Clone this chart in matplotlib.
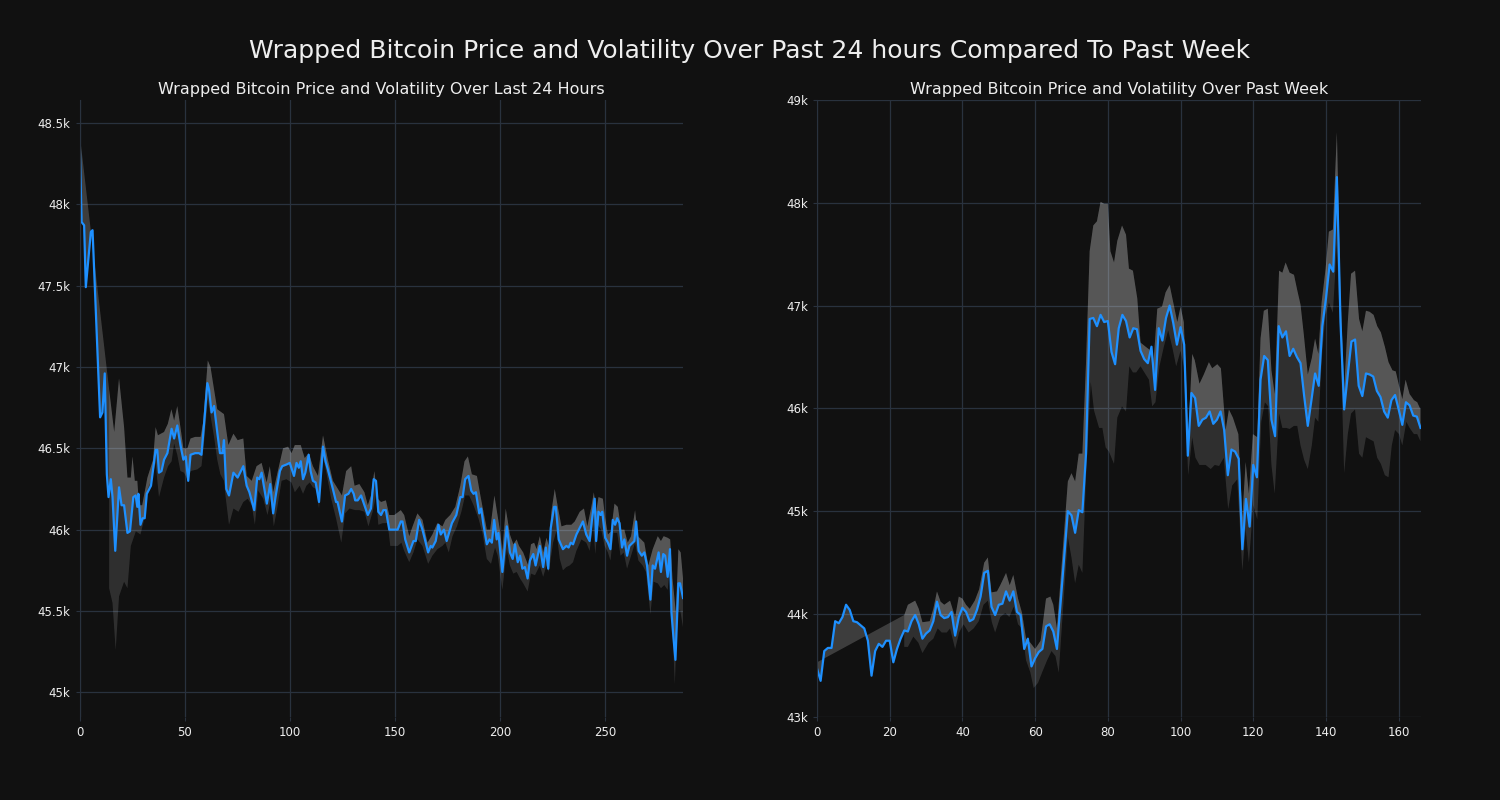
import matplotlib
matplotlib.use("Agg")
import matplotlib.pyplot as plt
import numpy as np
from matplotlib.ticker import FuncFormatter

# ---- last 24 hours (5 minute steps), prices in thousands of USD ----
day_x = [0, 1, 2.2, 3, 5.4, 6.2, 9.8, 10.9, 12, 13, 13.8, 14.9, 15.7, 17, 18.8, 20, 21.2, 22.8, 24,
         25.6, 26.7, 27.5, 28, 29, 30, 31, 32, 34, 36.2, 37, 37.8, 39, 40.2, 41.8, 43.8, 45, 46.5,
         48, 49.4, 50.5, 51.7, 52.8, 55, 56.8, 58, 59.5, 60.8, 61.6, 62.8, 64, 65.5, 66.8, 68, 68.7,
         69.8, 71.1, 73.2, 75.2, 77.9, 79.5, 80.8, 83.1, 84.5, 85.5, 86.6, 87.9, 89.1, 90.7, 92.1,
         93.2, 95.3, 96.4, 98.4, 100, 102, 103.2, 104.3, 105.2, 106.3, 107.4, 109, 109.9, 111,
         112.3, 113.9, 115.8, 117, 118.1, 120.5, 122, 122.7, 124.8, 126.3, 127.9, 129.2, 130.4,
         131.1, 132.3, 133.9, 135.5, 137.1, 138.6, 139.9, 141, 142.1, 143.4, 144.5, 145.7, 147.3,
         148.9, 151.3, 152.8, 153.6, 154.9, 156.8, 158.8, 159.9, 161.5, 163.1, 165.8, 167, 167.8,
         169.4, 170.7, 171.8, 173.3, 174.6, 177.1, 179.2, 181.1, 182.2, 183.4, 185, 186.3, 187.4,
         188.5, 190.1, 191, 192.1, 193.7, 195, 196.1, 197.2, 198.4, 199.2, 201.1, 203.2, 204.7,
         206, 207.1, 208.4, 209.5, 210.6, 211.8, 213.1, 214.2, 215.8, 216.9, 218.9, 220.5, 221.8,
         222.9, 224.1, 225.7, 226.5, 227.9, 229.9, 231.5, 232.6, 233.6, 234.7, 236.3, 239.4, 241,
         242.6, 243.7, 245, 245.7, 246.8, 247.8, 248.6, 250, 251.3, 252.5, 253.6, 254.7, 255.7,
         256.8, 258, 259.1, 260.4, 261.5, 263.9, 264.7, 265.9, 267.4, 268.6, 269.9, 271.5, 272.6,
         273.7, 275.4, 276.5, 277.6, 278.5, 279.7, 280.8, 281.5, 282.5, 283.4, 284.8, 285.6, 287]
day_price = [48.44, 47.89, 47.87, 47.49, 47.83, 47.84, 46.69, 46.72, 46.96, 46.34, 46.2, 46.31, 46.2,
             45.87, 46.26, 46.15, 46.15, 45.98, 45.99, 46.2, 46.21, 46.14, 46.22, 46.03, 46.07,
             46.07, 46.22, 46.27, 46.49, 46.49, 46.35, 46.36, 46.43, 46.47, 46.62, 46.56, 46.64,
             46.52, 46.43, 46.45, 46.3, 46.46, 46.47, 46.47, 46.46, 46.69, 46.9, 46.86, 46.72,
             46.76, 46.6, 46.47, 46.47, 46.55, 46.25, 46.21, 46.35, 46.32, 46.39, 46.27, 46.23,
             46.12, 46.32, 46.31, 46.35, 46.25, 46.16, 46.28, 46.1, 46.2, 46.36, 46.39, 46.4, 46.41,
             46.33, 46.41, 46.38, 46.42, 46.31, 46.35, 46.46, 46.36, 46.3, 46.29, 46.17, 46.51,
             46.42, 46.37, 46.25, 46.17, 46.17, 46.05, 46.21, 46.22, 46.25, 46.22, 46.18, 46.18,
             46.21, 46.15, 46.09, 46.13, 46.31, 46.3, 46.11, 46.09, 46.12, 46.12, 46.0, 46.0, 46.0,
             46.05, 46.05, 45.94, 45.86, 45.93, 45.93, 46.06, 46.0, 45.86, 45.9, 45.89, 45.93,
             46.03, 45.97, 46.0, 45.93, 46.04, 46.09, 46.2, 46.2, 46.31, 46.33, 46.24, 46.22, 46.23,
             46.1, 46.13, 46.03, 45.91, 45.94, 45.92, 46.06, 45.94, 45.98, 45.74, 46.02, 45.86,
             45.82, 45.91, 45.8, 45.84, 45.76, 45.77, 45.7, 45.81, 45.85, 45.78, 45.9, 45.77, 45.89,
             45.76, 46.01, 46.14, 46.14, 45.94, 45.88, 45.9, 45.89, 45.92, 45.91, 45.97, 46.05,
             45.97, 45.93, 46.06, 46.19, 45.93, 46.11, 46.09, 46.11, 45.95, 45.92, 45.88, 46.06,
             46.03, 46.07, 46.04, 45.89, 45.94, 45.84, 45.9, 45.93, 46.05, 45.87, 45.84, 45.86,
             45.78, 45.57, 45.78, 45.76, 45.86, 45.74, 45.85, 45.84, 45.71, 45.88, 45.49, 45.33,
             45.2, 45.67, 45.67, 45.58]

day_upper_x = [0, 14.1, 16.5, 18.8, 21.2, 22.8, 24.4, 25.2, 26.3, 27.5, 28.3, 29.8, 32.3, 35, 36.2,
               37.3, 40.2, 42, 43.7, 45, 46.5, 48, 49.4, 51.3, 52.8, 55, 57.6, 58.8, 61, 62.3, 64,
               65.5, 68.7, 70.8, 73.2, 75.2, 77.9, 79.5, 81.9, 84.2, 86.6, 89, 90.5, 92.1, 94.5,
               96.8, 99.2, 100.8, 102.4, 105.2, 107.1, 109, 111, 113.4, 115.8, 118.1, 120.5, 122.9,
               124.8, 126.8, 129.2, 130.8, 133.1, 135.5, 137.1, 138.6, 140.2, 141.8, 143.4, 145.7,
               147.3, 149.7, 152.8, 154.4, 156.8, 158.4, 160.7, 163.1, 165.5, 167.8, 170.2, 172.6,
               174, 176.3, 178.7, 181.1, 183.1, 184.7, 186.6, 189, 190.5, 192.1, 193.7, 195.3,
               197.3, 198.9, 200, 201.1, 202.7, 204.7, 206.3, 207.9, 209, 211, 213.4, 214.7, 216.2,
               217.4, 218.9, 220.5, 222.1, 223.2, 224.4, 226, 227.6, 229.2, 231.5, 233.9, 235.5,
               237.9, 239.9, 241.5, 243.4, 244.6, 245.7, 246.8, 248.9, 250, 251.3, 252.8, 254.4,
               256, 257.6, 259.1, 260.7, 262.3, 264.2, 265.5, 267.1, 268.6, 270.5, 272.6, 275,
               276.5, 277.8, 279.7, 280.9, 282, 283.6, 284.8, 285.9, 287]
day_upper = [48.44, 46.86, 46.6, 46.93, 46.63, 46.32, 46.32, 46.45, 46.3, 46.3, 46.15, 46.15, 46.32,
             46.43, 46.63, 46.58, 46.6, 46.65, 46.74, 46.67, 46.76, 46.63, 46.5, 46.5, 46.56,
             46.57, 46.57, 46.66, 47.04, 47.0, 46.86, 46.74, 46.71, 46.52, 46.59, 46.55, 46.56,
             46.33, 46.3, 46.39, 46.41, 46.29, 46.39, 46.23, 46.37, 46.5, 46.51, 46.47, 46.52,
             46.52, 46.44, 46.47, 46.39, 46.33, 46.58, 46.43, 46.3, 46.25, 46.21, 46.36, 46.39,
             46.27, 46.28, 46.23, 46.15, 46.21, 46.36, 46.19, 46.17, 46.18, 46.09, 46.09, 46.12,
             46.09, 45.96, 46.02, 46.1, 46.06, 45.92, 45.97, 46.04, 46.02, 46.06, 46.09, 46.14,
             46.27, 46.42, 46.45, 46.34, 46.33, 46.22, 46.11, 46.0, 46.0, 46.21, 46.08, 45.99,
             45.87, 46.13, 45.97, 45.91, 45.94, 45.9, 45.86, 45.78, 45.91, 45.92, 45.88, 45.96,
             45.86, 45.95, 45.9, 46.11, 46.25, 46.13, 46.02, 46.03, 46.03, 46.05, 46.11, 46.13,
             46.02, 46.14, 46.23, 46.11, 46.2, 46.19, 46.07, 45.97, 45.99, 46.16, 46.14, 46.0,
             46.0, 45.92, 45.96, 46.12, 45.96, 45.94, 45.92, 45.78, 45.88, 45.96, 45.93, 45.96,
             45.95, 45.94, 45.7, 45.49, 45.88, 45.86, 45.7]

day_lower_x = [14.1, 15.7, 17.2, 18.8, 21.2, 22.8, 24.4, 26.8, 29, 30.7, 32.3, 34, 36.2, 37.8, 40.2,
               42.1, 43.8, 45, 46.5, 48, 49.7, 51.7, 52.8, 56, 58, 59.5, 61, 62.3, 64, 65.5, 67,
               68.7, 69.5, 71.1, 73.2, 75.6, 77.9, 80, 81.9, 83.4, 85, 87.4, 89.4, 91, 92.4, 94,
               96.1, 98.4, 100.8, 102.4, 104.7, 106.3, 107.9, 109.5, 111, 112.6, 113.9, 115.8,
               117.4, 119.7, 122, 124.5, 126.3, 128.4, 131.1, 133.1, 135.5, 137.4, 139.4, 141,
               142.1, 144.2, 146.5, 147.8, 151.3, 153.1, 154.4, 156.8, 158.8, 160.7, 163.1, 165.8,
               167.8, 170.2, 172.6, 174, 175.6, 177.4, 179.5, 181.6, 183.4, 185.3, 187.4, 189.7,
               191.6, 193.7, 195.7, 197.6, 198.9, 201.1, 203.2, 204.7, 206.3, 207.9, 209.5, 211,
               213.1, 214.7, 216.6, 218.9, 220.5, 222.1, 223.2, 225.2, 226.8, 228.4, 229.9, 231.5,
               233.1, 234.7, 236.3, 238.7, 241, 242.6, 244.2, 245.3, 246.5, 248.1, 249.7, 251.3,
               252.5, 253.9, 255.7, 257.3, 258.8, 260.4, 262.3, 264.2, 265.8, 267.8, 269.4, 271.5,
               273, 275, 276.5, 278.1, 279.7, 280.9, 282, 283.1, 284.4, 285.6, 287]
day_lower = [45.64, 45.55, 45.26, 45.59, 45.68, 45.64, 45.9, 45.99, 45.97, 46.06, 46.25, 46.3, 46.41,
             46.2, 46.32, 46.39, 46.42, 46.53, 46.46, 46.36, 46.35, 46.3, 46.36, 46.37, 46.39,
             46.57, 46.8, 46.7, 46.57, 46.43, 46.34, 46.3, 46.2, 46.03, 46.13, 46.11, 46.17,
             46.19, 46.15, 46.03, 46.24, 46.19, 46.09, 46.19, 46.02, 46.13, 46.3, 46.31, 46.29,
             46.23, 46.27, 46.22, 46.27, 46.29, 46.26, 46.25, 46.13, 46.45, 46.35, 46.19, 46.07,
             45.92, 46.1, 46.13, 46.12, 46.12, 46.11, 46.02, 46.11, 46.21, 46.03, 46.04, 46.04,
             45.9, 45.9, 45.92, 45.87, 45.8, 45.86, 45.94, 45.9, 45.79, 45.84, 45.88, 45.9, 45.92,
             45.86, 45.96, 46.02, 46.11, 46.21, 46.21, 46.15, 46.07, 45.98, 45.82, 45.79, 45.89,
             45.84, 45.63, 45.88, 45.78, 45.73, 45.74, 45.7, 45.67, 45.62, 45.73, 45.72, 45.78,
             45.71, 45.78, 45.74, 45.92, 45.99, 45.82, 45.75, 45.77, 45.78, 45.8, 45.87, 45.94,
             45.92, 45.87, 46.03, 45.85, 46.03, 46.0, 45.9, 45.86, 45.81, 45.98, 45.98, 45.84,
             45.86, 45.76, 45.84, 45.92, 45.81, 45.78, 45.74, 45.48, 45.68, 45.67, 45.64, 45.66,
             45.63, 45.78, 45.39, 45.05, 45.49, 45.51, 45.4]

# ---- past week (hourly), prices in thousands of USD ----
week_price = [43.47, 43.35, 43.64, 43.67, 43.67, 43.93, 43.91, 43.97, 44.09, 44.04, 43.93, 43.92,
              43.89, 43.86, 43.74, 43.4, 43.64, 43.71, 43.68, 43.74, 43.74, 43.53, 43.66, 43.76,
              43.84, 43.83, 43.93, 43.99, 43.9, 43.76, 43.81, 43.84, 43.93, 44.12, 43.99, 43.96,
              43.97, 44.02, 43.79, 43.97, 44.06, 44.02, 43.93, 43.95, 44.04, 44.17, 44.4, 44.42,
              44.07, 43.99, 44.09, 44.1, 44.22, 44.13, 44.22, 44.02, 43.99, 43.66, 43.76, 43.49,
              43.57, 43.63, 43.66, 43.88, 43.9, 43.83, 43.66, 44.11, 44.57, 45.0, 44.96, 44.79,
              45.01, 44.99, 45.56, 46.87, 46.88, 46.8, 46.91, 46.84, 46.85, 46.55, 46.43, 46.78,
              46.91, 46.85, 46.69, 46.78, 46.77, 46.56, 46.48, 46.44, 46.6, 46.18, 46.78, 46.66,
              46.88, 47.0, 46.83, 46.62, 46.79, 46.62, 45.54, 46.15, 46.1, 45.83, 45.89, 45.91,
              45.97, 45.85, 45.89, 45.97, 45.79, 45.35, 45.6, 45.58, 45.51, 44.63, 45.12, 44.85,
              45.45, 45.33, 46.28, 46.51, 46.47, 45.89, 45.73, 46.8, 46.69, 46.75, 46.51, 46.58,
              46.5, 46.44, 46.12, 45.83, 46.08, 46.34, 46.22, 46.8, 47.07, 47.4, 47.33, 48.25,
              46.84, 45.99, 46.33, 46.65, 46.67, 46.22, 46.12, 46.34, 46.33, 46.31, 46.17, 46.11,
              45.97, 45.91, 46.08, 46.13, 45.99, 45.84, 46.06, 46.03, 45.93, 45.92, 45.81]

week_upper_x = [0, 24, 25, 27, 28, 29, 31, 32, 33, 34, 35, 36.6, 38, 39, 40, 41, 42, 43.4, 44.6, 46,
                47, 48, 49.5, 50.4, 52, 53, 54, 55.3, 56.4, 57.5, 58.7, 60, 61.5, 63, 64.2, 65, 66,
                69, 70, 71, 72, 73, 74, 75, 76, 77, 78, 79, 80, 80.7, 81.7, 82.6, 83.9, 85, 85.8,
                86.9, 88.1, 89, 90.4, 91.5, 92.4, 93.6, 94.9, 95.9, 97, 98, 99.1, 100, 100.9,
                102.1, 103.2, 103.9, 105.2, 106.4, 107.8, 108.7, 110.1, 111.1, 112.4, 113.3, 114.4,
                115.9, 117, 117.9, 118.8, 119.9, 121.1, 122, 122.9, 124, 125, 125.9, 127.1, 128,
                128.9, 130, 131.2, 132.1, 133, 133.9, 135, 136.1, 137, 137.9, 138.8, 139.9, 140.8,
                141.9, 143, 144, 145, 146, 146.9, 148, 149.1, 150, 151, 152, 153.1, 154.1, 155.1,
                156.2, 157.2, 158.3, 159.2, 160.1, 161, 161.9, 163, 164.2, 165.1, 166]
week_upper = [43.53, 43.99, 44.09, 44.13, 44.05, 43.92, 43.93, 44.05, 44.22, 44.12, 44.09, 44.13,
              43.97, 44.17, 44.15, 44.09, 44.05, 44.13, 44.24, 44.5, 44.55, 44.21, 44.22, 44.28,
              44.4, 44.28, 44.38, 44.15, 44.01, 43.76, 43.72, 43.66, 43.74, 44.15, 44.17, 44.09,
              43.86, 45.29, 45.37, 45.29, 45.56, 45.56, 46.45, 47.53, 47.78, 47.82, 48.01, 47.99,
              47.99, 47.53, 47.42, 47.63, 47.78, 47.69, 47.36, 47.34, 47.07, 46.64, 46.6, 46.57,
              46.37, 46.97, 46.99, 47.13, 47.2, 47.03, 46.84, 46.99, 46.84, 45.72, 46.53, 46.47,
              46.24, 46.33, 46.45, 46.39, 46.43, 46.39, 45.79, 45.99, 45.91, 45.75, 44.94, 45.48,
              45.17, 45.75, 45.72, 46.68, 46.95, 46.97, 46.37, 46.14, 47.34, 47.32, 47.42, 47.32,
              47.3, 47.15, 47.01, 46.72, 46.33, 46.49, 46.68, 46.53, 47.03, 47.36, 47.72, 47.74,
              48.69, 47.09, 46.18, 46.84, 47.31, 47.34, 46.87, 46.75, 46.95, 46.94, 46.91, 46.8,
              46.74, 46.6, 46.45, 46.37, 46.36, 46.22, 46.09, 46.28, 46.14, 46.08, 46.06, 45.99]

week_lower_x = [24, 25, 26.5, 27.9, 29, 30.7, 32, 33.2, 34.3, 35.7, 36.6, 38, 39.1, 40.3, 41.7, 43.1,
                44.5, 45.8, 47, 48.1, 49, 50.4, 51.8, 52.9, 54.1, 55.3, 56.4, 57.5, 58.7, 59.6,
                60.8, 61.9, 63.3, 64.5, 65.6, 66.5, 69, 70, 71, 72, 73, 74, 75.3, 76.2, 77.6, 78.5,
                79.4, 80.3, 81.7, 82.6, 83.9, 85, 85.9, 86.9, 87.8, 89, 90.4, 91.3, 92.2, 93.1,
                94.2, 95.4, 96.6, 97.7, 98.8, 100, 100.9, 102.1, 103.2, 104.1, 105.2, 106.9, 108.3,
                109.4, 110.6, 111.9, 113.1, 114.2, 115.6, 117, 117.9, 118.8, 120, 121.1, 122.2,
                123.2, 124.1, 125, 125.9, 127.1, 128, 129.1, 130, 131.2, 132.1, 133, 134, 135,
                136.1, 137, 137.9, 139, 139.9, 140.8, 141.9, 143, 144, 145, 146, 146.9, 148, 149.1,
                150, 151, 152, 153.1, 154.1, 155.1, 156.2, 157.2, 158.1, 159, 160.1, 161, 162.1,
                163, 164.2, 165.1, 166]
week_lower = [43.68, 43.68, 43.78, 43.72, 43.62, 43.72, 43.76, 43.86, 43.82, 43.82, 43.86, 43.66,
              43.82, 43.9, 43.82, 43.86, 43.93, 44.09, 44.13, 43.92, 43.82, 43.97, 44.01, 43.97,
              44.07, 43.9, 43.86, 43.55, 43.43, 43.28, 43.33, 43.43, 43.55, 43.64, 43.59, 43.43,
              44.75, 44.55, 44.3, 44.48, 44.4, 45.33, 46.26, 45.98, 45.81, 45.81, 45.62, 45.58,
              45.46, 45.91, 46.02, 45.97, 46.41, 46.35, 46.35, 46.41, 46.33, 46.28, 46.02, 46.06,
              46.41, 46.6, 46.76, 46.6, 46.41, 46.56, 46.41, 45.35, 45.72, 45.52, 45.45, 45.45,
              45.41, 45.45, 45.44, 45.52, 45.02, 45.25, 45.31, 44.42, 44.83, 44.5, 45.06, 44.92,
              45.87, 46.06, 46.02, 45.45, 45.17, 45.95, 45.81, 45.81, 45.8, 45.83, 45.83, 45.64,
              45.5, 45.41, 45.64, 45.91, 45.87, 46.56, 46.91, 47.03, 46.93, 47.6, 46.64, 45.37,
              45.75, 45.95, 45.99, 45.56, 45.52, 45.72, 45.7, 45.68, 45.52, 45.46, 45.35, 45.33,
              45.64, 45.79, 45.75, 45.64, 45.87, 45.81, 45.75, 45.75, 45.68]

BG = "#111111"
GRID = "#29323e"
TEXT = "#eeeeee"
LINE = "#1e90ff"


def k_fmt(v, pos):
    return f"{v / 1000:g}k"


def draw(ax, x, price, up_x, up, lo_x, lo, title):
    x = np.asarray(x, float)
    price = np.asarray(price) * 1000
    up_x = np.asarray(up_x, float)
    up = np.asarray(up) * 1000
    lo_x = np.asarray(lo_x, float)
    lo = np.asarray(lo) * 1000

    # dark band: lower -> upper (only where the lower bound exists)
    keep = up_x >= lo_x[0]
    ax.fill(np.concatenate([lo_x, up_x[keep][::-1]]),
            np.concatenate([lo, up[keep][::-1]]),
            color="white", alpha=0.13, linewidth=0)
    # light band: price -> upper
    ax.fill(np.concatenate([x, up_x[::-1]]),
            np.concatenate([price, up[::-1]]),
            color="white", alpha=0.19, linewidth=0)
    ax.plot(x, price, color=LINE, linewidth=1.6)

    ax.set_facecolor(BG)
    ax.set_title(title, color=TEXT, fontsize=11.5, pad=4.5)
    ax.grid(True, color=GRID, linewidth=0.9)
    ax.set_axisbelow(True)
    ax.yaxis.set_major_formatter(FuncFormatter(k_fmt))
    ax.tick_params(colors=TEXT, labelsize=8.5, length=3)
    ax.tick_params(axis="both", color=GRID)
    for side in ["top", "right", "bottom"]:
        ax.spines[side].set_visible(False)
    ax.spines["left"].set_color(GRID)
    ax.set_xlim(0, x[-1])


fig, (ax1, ax2) = plt.subplots(1, 2, figsize=(15, 8), dpi=100)
fig.patch.set_facecolor(BG)

draw(ax1, day_x, day_price, day_upper_x, day_upper, day_lower_x, day_lower,
     "Wrapped Bitcoin Price and Volatility Over Last 24 Hours")
draw(ax2, np.arange(len(week_price)), week_price, week_upper_x, week_upper,
     week_lower_x, week_lower, "Wrapped Bitcoin Price and Volatility Over Past Week")
ax1.set_xticks([0, 50, 100, 150, 200, 250])
ax1.set_ylim(44850, 48640)
ax2.set_xticks([0, 20, 40, 60, 80, 100, 120, 140, 160])
ax2.set_ylim(43000, 49000)

fig.suptitle("Wrapped Bitcoin Price and Volatility Over Past 24 hours Compared To Past Week",
             color=TEXT, fontsize=18, y=0.951)
plt.subplots_adjust(left=0.053, right=0.947, bottom=0.104, top=0.875, wspace=0.222)
plt.savefig("out.png", facecolor=BG)
